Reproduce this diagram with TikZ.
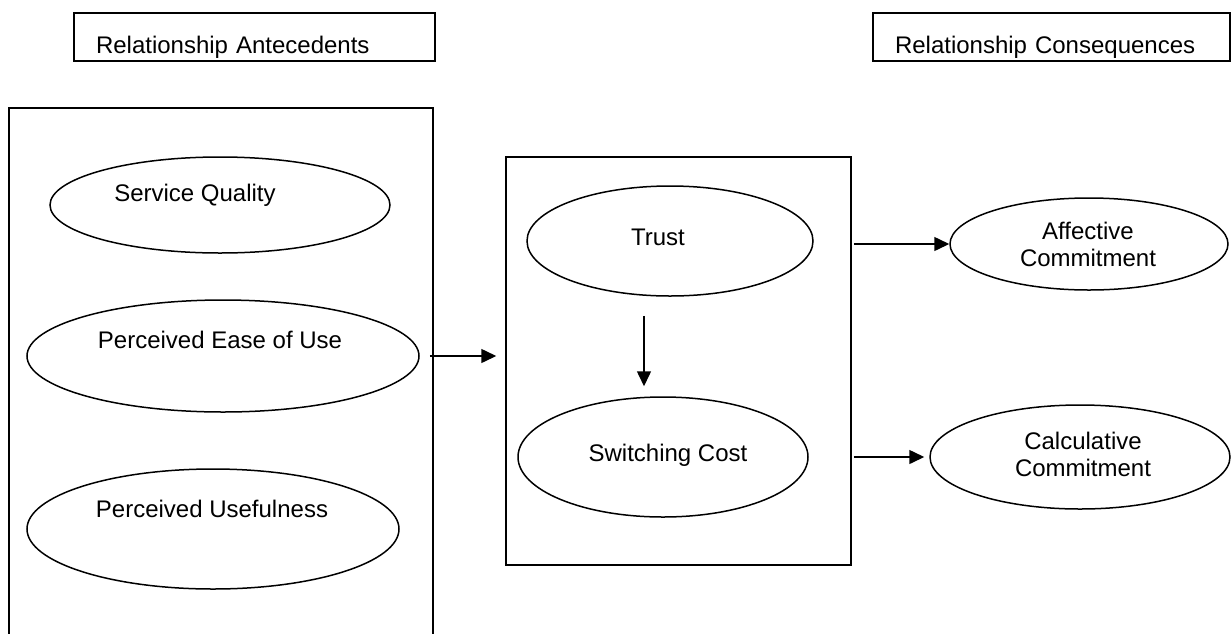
\documentclass[tikz,border=0pt]{standalone}
\usepackage{fontspec}
\setmainfont{Liberation Sans}
\usetikzlibrary{shapes.geometric,arrows.meta}

\begin{document}
\begin{tikzpicture}[x=0.5pt,y=-0.5pt,line width=0.75pt,font=\fontsize{12}{13.5}\selectfont]
	\tikzstyle{construct}=[ellipse,draw=black,inner sep=0pt]
	\tikzstyle{panel}=[rectangle,draw=black,inner sep=0pt]
	\tikzstyle{heading}=[rectangle,draw=black,inner xsep=11pt,inner ysep=0pt,text height=20pt,text depth=4pt,align=left]
	\tikzstyle{caption}=[anchor=base]
	\tikzstyle{link}=[-{Triangle[length=7.5pt,width=7pt]}]
	\clip (0,0) rectangle (1232,633);

	% headings
	\node[heading,text width=158.5pt](antehead) at (254.5,37) {Relationship Antecedents};
	\node[heading,text width=156.5pt](conshead) at (1051.5,37) {Relationship Consequences};

	% the two groups
	\node[panel,minimum width=212pt,minimum height=296pt](ante) at (221,404) {};
	\node[panel,minimum width=172.5pt,minimum height=204pt](mid) at (678.5,361) {};

	% antecedents
	\node[construct,minimum width=170pt,minimum height=48pt](sq) at (220,205) {};
	\node[caption](sqtext) at (195,201) {Service Quality};
	\node[construct,minimum width=196pt,minimum height=56pt](peou) at (223,356) {};
	\node[caption](peoutext) at (220,348) {Perceived Ease of Use};
	\node[construct,minimum width=186pt,minimum height=60pt](pu) at (213,529) {};
	\node[caption](putext) at (212,517) {Perceived Usefulness};

	% mediators
	\node[construct,minimum width=143pt,minimum height=55pt](trust) at (670,241) {};
	\node[caption](trusttext) at (658,245) {Trust};
	\node[construct,minimum width=145pt,minimum height=60pt](sc) at (663,457) {};
	\node[caption](sctext) at (668,461) {Switching Cost};

	% consequences
	\node[construct,minimum width=139pt,minimum height=46pt](ac) at (1089,244) {};
	\node[caption,anchor=center,align=center](actext) at (1088,244) {Affective\\Commitment};
	\node[construct,minimum width=150pt,minimum height=52pt](cc) at (1080,457) {};
	\node[caption,anchor=center,align=center](cctext) at (1083,454) {Calculative\\Commitment};

	\draw[link] ([xshift=-2pt]ante.east |- peou.east) -- ([xshift=-4.5pt]mid.west |- peou.east);
	\draw[link] ([xshift=-13pt,yshift=-9.5pt]trust.south) -- ([xshift=-9.5pt,yshift=5pt]sc.north);
	\draw[link] ([xshift=1pt]mid.east |- ac.west) -- (ac.west);
	\draw[link] ([xshift=1pt]mid.east |- cc.west) -- ([xshift=-2.5pt]cc.west);
\end{tikzpicture}
\end{document}
